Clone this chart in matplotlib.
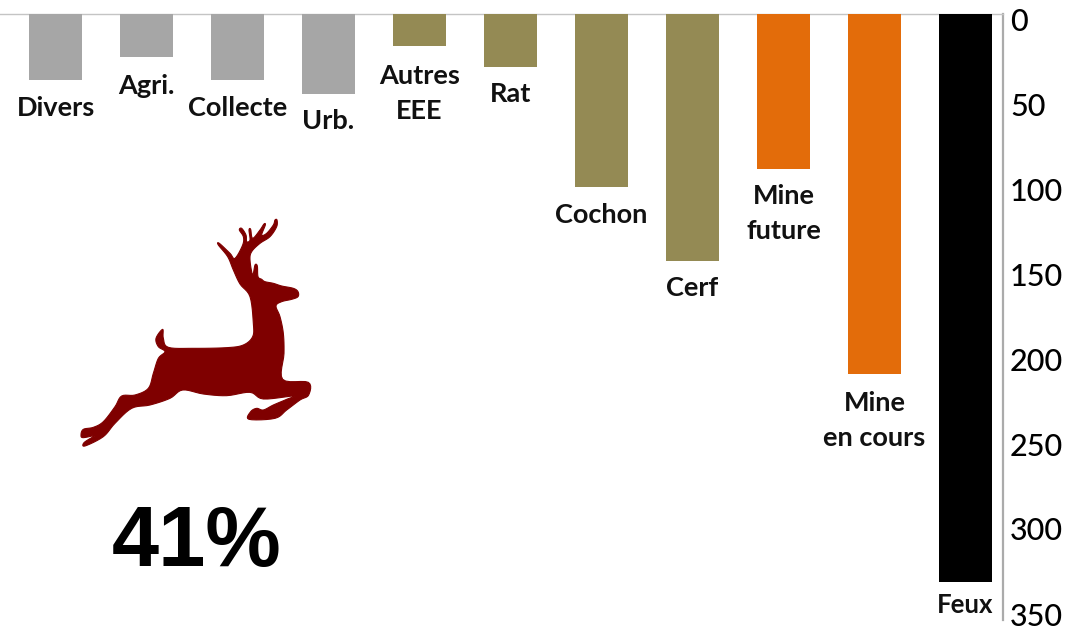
import matplotlib
matplotlib.use("Agg")
import matplotlib.pyplot as plt
import matplotlib.patches as mpatches
from matplotlib.path import Path
from matplotlib.transforms import ScaledTranslation
import numpy as np

# --- Data ---
labels = ["Divers", "Agri.", "Collecte", "Urb.", "Autres\nEEE", "Rat",
          "Cochon", "Cerf", "Mine\nfuture", "Mine\nen cours", "Feux"]
values = [39, 25, 39, 47, 19, 31, 102, 145, 91, 212, 334]
groups = ["autre", "autre", "autre", "autre", "eee", "eee",
          "eee", "eee", "mine", "mine", "feu"]
y_ticks = [0, 50, 100, 150, 200, 250, 300, 350]
percent = "41%"

COLORS = {"autre": "#A6A6A6", "eee": "#948A54", "mine": "#E36C0A", "feu": "#000000"}
C_AXIS = "#ABABAB"
C_DEER = "#7F0000"

W, H = 1077, 630
AX_L, AX_R, AX_T, AX_B = 0, 1003, 14, 620
PX_PER_UNIT = 1.7
STEP = 91
FIRST = 55.5

# centre of each label, in picture pixels from the top
label_px = [108, 86, 108, 121, 93, 94, 215, 288, 213, 420, 605]
label_size = [19.5] * 10 + [18.5]

# deer outline, traced in 3x zoom coordinates
deer = [(540, 222), (520, 180), (503, 140), (475, 105), (478, 100), (510, 130), (525, 145),
        (548, 105), (550, 80), (538, 60), (545, 55), (558, 75), (560, 95), (570, 90),
        (567, 60), (572, 58), (578, 85), (600, 60), (612, 42), (616, 45), (605, 75),
        (620, 70), (640, 45), (645, 30), (651, 30), (650, 50), (630, 80), (600, 100),
        (575, 125), (570, 150), (578, 195), (585, 165), (592, 168), (594, 200), (605, 208),
        (615, 215), (640, 220), (665, 228), (700, 235), (714, 245), (714, 260), (695, 268),
        (665, 275), (648, 288), (660, 320), (670, 370), (672, 430), (668, 508), (745, 517),
        (746, 555), (720, 570), (680, 600), (645, 625), (567, 628), (572, 605), (590, 595),
        (610, 600), (640, 585), (680, 568), (700, 558), (610, 567), (570, 547), (500, 557),
        (430, 552), (368, 540), (330, 565), (270, 585), (215, 595), (165, 640), (130, 680),
        (75, 708), (72, 698), (100, 680), (110, 675), (70, 683), (63, 675), (70, 658),
        (100, 652), (130, 635), (165, 590), (185, 558), (225, 555), (265, 535), (280, 490),
        (295, 445), (315, 425), (295, 410), (288, 385), (308, 358), (310, 385), (325, 412),
        (400, 415), (500, 413), (550, 405), (578, 380), (580, 340), (570, 260)]


def smooth_outline(points, n=6):
    # closed catmull-rom through the traced points, just to take the corners off
    p = np.array(points, dtype=float)
    out = []
    for i in range(len(p)):
        p0, p1, p2, p3 = p[i - 1], p[i], p[(i + 1) % len(p)], p[(i + 2) % len(p)]
        for t in np.linspace(0, 1, n, endpoint=False):
            out.append(0.5 * (2 * p1 + (p2 - p0) * t + (2 * p0 - 5 * p1 + 4 * p2 - p3) * t ** 2
                              + (3 * p1 - p0 - 3 * p2 + p3) * t ** 3))
    return np.array(out)


plt.rcParams["font.family"] = ["Lato", "DejaVu Sans"]

fig = plt.figure(figsize=(W / 100, H / 100), dpi=100)
ax = fig.add_axes([AX_L / W, 1 - AX_B / H, (AX_R - AX_L) / W, (AX_B - AX_T) / H])

x = np.arange(len(values))
ax.bar(x, values, 53 / STEP, color=[COLORS[g] for g in groups], zorder=3)

ax.set_xlim((AX_L - FIRST) / STEP, (AX_R - FIRST) / STEP)
ax.set_ylim((AX_B - AX_T) / PX_PER_UNIT, 0)
ax.set_xticks([])
ax.yaxis.tick_right()
ax.set_yticks(y_ticks)
ax.tick_params(axis="y", length=0, pad=5, labelsize=22, labelcolor="black")
offset = ScaledTranslation(0, -5 / 100, fig.dpi_scale_trans)
for lab in ax.get_yticklabels():
    lab.set_transform(lab.get_transform() + offset)
    lab.set_fontweight("medium")

for side in ("left", "bottom"):
    ax.spines[side].set_visible(False)
ax.spines["right"].set_color(C_AXIS)
ax.spines["right"].set_linewidth(1.6)
ax.spines["top"].set_color("#C4C4C4")
ax.spines["top"].set_linewidth(1.0)

for i, (text, py, size) in enumerate(zip(labels, label_px, label_size)):
    ax.text(i, (py - AX_T) / PX_PER_UNIT, text, ha="center", va="center",
            fontsize=size, fontweight="bold", color="#111111", linespacing=1.55, zorder=4)

# deer icon, placed in picture pixels
smooth = smooth_outline(deer)
pts = np.column_stack([60 + smooth[:, 0] / 3, H - (210 + smooth[:, 1] / 3)])
codes = [Path.MOVETO] + [Path.LINETO] * (len(pts) - 1) + [Path.CLOSEPOLY]
verts = np.vstack([pts, pts[0]])
fig.add_artist(mpatches.PathPatch(Path(verts, codes), transform=None, facecolor=C_DEER,
                                  edgecolor=C_DEER, linewidth=0.8, joinstyle="round"))

fig.text(197 / W, 1 - 544 / H, percent, ha="center", va="center", fontsize=61,
         fontweight="bold", family="Liberation Sans", color="black")

fig.savefig("out.png", dpi=100, facecolor="white")
